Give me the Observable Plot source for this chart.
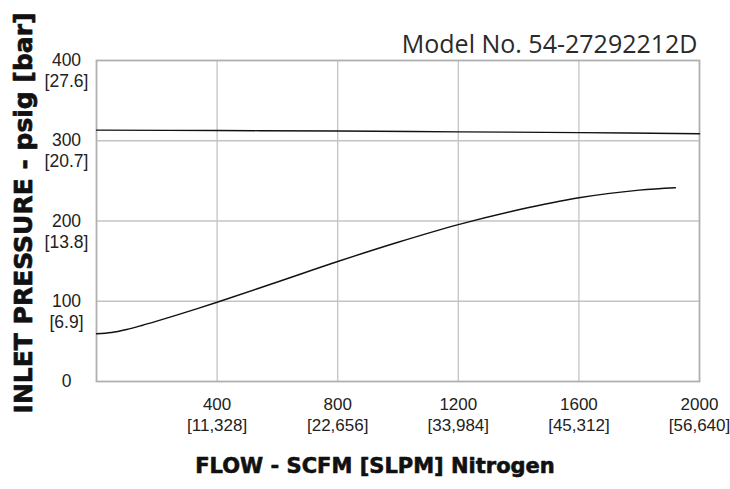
<!DOCTYPE html>
<html>
<head>
<meta charset="utf-8">
<script src="https://cdn.jsdelivr.net/npm/d3@7"></script>
<script src="https://cdn.jsdelivr.net/npm/@observablehq/plot@0.6"></script>
<style>
  html, body { margin: 0; padding: 0; background: #fff; }
  #chart svg { display: block; }
</style>
</head>
<body>
<div id="chart"></div>
<script>
const title = "Model No. 54-27292212D";
const xLabel = "FLOW - SCFM [SLPM] Nitrogen";
const yLabel = "INLET PRESSURE - psig [bar]";

const xTicks = [400, 800, 1200, 1600, 2000];
const xTickSlpm = ["[11,328]", "[22,656]", "[33,984]", "[45,312]", "[56,640]"];
const yTicks = [0, 100, 200, 300, 400];
const yTickBar = ["", "[6.9]", "[13.8]", "[20.7]", "[27.6]"];

const upperFlow = [0, 400, 800, 1200, 1600, 2000];
const upperPsig = [313.3, 312.7, 312.2, 311.1, 310.1, 308.8];

const lowerFlow = [0, 50, 100, 150, 200, 300, 400, 600, 800, 1000, 1200, 1400, 1600, 1800, 1920];
const lowerPsig = [59.5, 61, 64.8, 69.8, 75.3, 86.8, 98.8, 124, 149.5, 173.5, 195.5, 214, 229, 238.5, 241.5];

const upper = upperFlow.map((f, i) => ({flow: f, psig: upperPsig[i]}));
const lower = lowerFlow.map((f, i) => ({flow: f, psig: lowerPsig[i]}));
const xTickData = xTicks.map((v, i) => ({v, slpm: xTickSlpm[i]}));
const yTickData = yTicks.map((v, i) => ({v, bar: yTickBar[i]}));

const tickFont = "'Liberation Sans', Arial, sans-serif";
const heavyFont = "'DejaVu Sans', 'Liberation Sans', sans-serif";

const chart = Plot.plot({
  width: 730,
  height: 489,
  marginLeft: 96,
  marginRight: 31,
  marginTop: 60,
  marginBottom: 108,
  style: {background: "#fff", overflow: "visible"},
  x: {domain: [0, 2000], axis: null},
  y: {domain: [0, 400], axis: null},
  marks: [
    Plot.ruleX(xTicks.slice(0, 4), {stroke: "#c4c4c4", strokeWidth: 1.3}),
    Plot.ruleY(yTicks.slice(1, 4), {stroke: "#c4c4c4", strokeWidth: 1.3}),
    Plot.frame({stroke: "#b0b0b0", strokeWidth: 1.8}),
    Plot.line(upper, {x: "flow", y: "psig", curve: "catmull-rom", stroke: "#111", strokeWidth: 1.4}),
    Plot.line(lower, {x: "flow", y: "psig", curve: "catmull-rom", stroke: "#111", strokeWidth: 1.4}),
    // y tick labels
    Plot.text(yTickData, {y: "v", text: d => String(d.v), frameAnchor: "left", dx: -30, textAnchor: "middle",
      fontSize: 17.5, fontFamily: tickFont, fill: "#222"}),
    Plot.text(yTickData, {y: "v", text: "bar", frameAnchor: "left", dx: -30, dy: 21, textAnchor: "middle",
      fontSize: 17.5, fontFamily: tickFont, fill: "#222"}),
    // x tick labels
    Plot.text(xTickData, {x: "v", text: d => String(d.v), frameAnchor: "bottom", dy: 28,
      fontSize: 17, fontFamily: tickFont, fill: "#222"}),
    Plot.text(xTickData, {x: "v", text: "slpm", frameAnchor: "bottom", dy: 49,
      fontSize: 17, fontFamily: tickFont, fill: "#222"}),
    // title
    Plot.text([title], {text: d => d, frameAnchor: "top-right", dx: -2, dy: -25, textAnchor: "end",
      fontSize: 25, fontFamily: "'Open Sans', sans-serif", fill: "#2a2a2a"}),
    // axis labels
    Plot.text([xLabel], {text: d => d, frameAnchor: "bottom", dx: -23, dy: 91, textAnchor: "middle",
      fontSize: 21, fontWeight: "bold", fontFamily: heavyFont, fill: "#111", stroke: "#111", strokeWidth: 0.6}),
    Plot.text([yLabel], {text: d => d, frameAnchor: "left", textAnchor: "middle", rotate: -90, dx: -73, dy: -8,
      fontSize: 25, fontWeight: "bold", fontFamily: heavyFont, fill: "#111", stroke: "#111", strokeWidth: 0.7})
  ]
});
document.getElementById("chart").appendChild(chart);
</script>
</body>
</html>
